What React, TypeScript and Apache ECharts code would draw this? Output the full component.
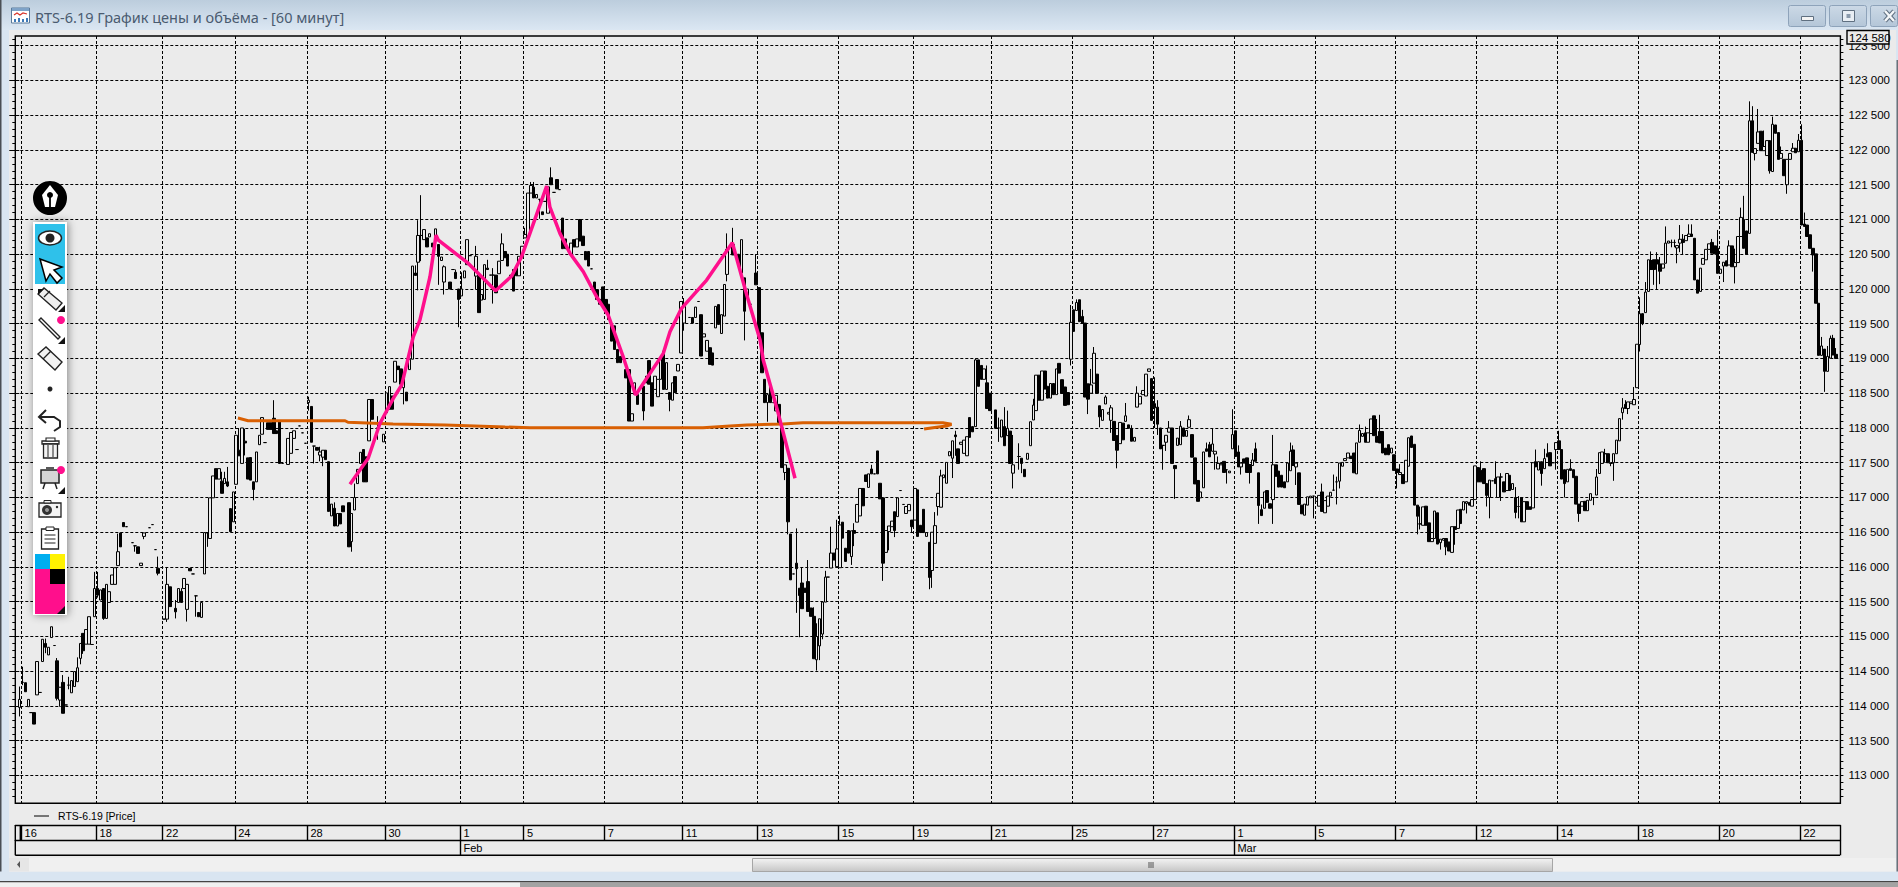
import React, { useEffect, useRef } from "react";
import * as echarts from "echarts";

type Row = number[] | null;
const _ = null;

const BAR_COUNT = 632;
const PRICE_MIN = 112600;
const PRICE_MAX = 123640;
const FONT = "'Liberation Sans', Arial, sans-serif";
const TITLE = "RTS-6.19 График цены и объёма - [60 минут]";
const SERIES_NAME = "RTS-6.19 [Price]";
const LAST_PRICE = "124 580";

const dayLabels = ["", "16", "18", "22", "24", "28", "30", "1", "5", "7", "11", "13", "15", "19", "21", "25", "27", "1", "5", "7", "12", "14", "18", "20", "22"];
const sessionStarts = [0, 2, 28, 51, 76, 101, 128, 154, 176, 204, 231, 257, 285, 311, 338, 366, 394, 422, 450, 478, 506, 534, 562, 590, 618];
const monthLabels = ["", "Feb", "Mar"];
const monthStarts = [0, 154, 422];

// rows: [open, close] or [open, close, low, high]; null = no bar drawn
const barsJan14: Row[] = [_, [113980,114095,113850,114280]];
const barsJan16: Row[] = [[114340,114340,114300,114565],[114335,114205],[113990,114095],[113905,113905],[113905,113740],[114160,114640],[114195,114195],[114640,114960],[114900,114845,114760,114970],[114735,114845],[114985,115140],[114870,114870],[114650,114110,114080,114690],[114085,114270,113990,114270],[114340,113895,113895,114445],[114015,114015],[114300,114300,114240,114420],[114190,114365],[114280,114495],[114350,114550,114350,114700],[114685,114900,114600,114900],[115045,114795,114750,115045],[114890,115100],[114890,115285],[114885,114885],[115285,115690,115285,115930]];
const barsJan18: Row[] = [[115690,115595,115560,115930],[115525,115670],[115690,115260,115240,115690],[115260,115750],[115490,115645],[115750,115885],[115750,115990],[116020,116220,116020,116480],[116490,116290],[116640,116580],[116580,116580],_,[116350,116350],[116305,116305,116220,116305],[116290,116195],[116020,116055],[116440,116490,116400,116490],_,[116565,116565],[116610,116610],[116250,116250],[115980,115910,115880,116150],_];
const barsJan22: Row[] = [[115250,115250],[115250,115750,115210,116000],[115715,115430],_,[115405,115355,115260,115525],[115490,115690],[115650,115490,115490,115695],[115690,115835],[115390,115750,115215,115750],[115980,115945],[115900,115900],[115585,115585,115285,115585],[115345,115285],[115275,115490],[115900,116495],[116490,116490,116290,116490],[116410,116995],[116995,117310],[117415,117265],[117265,117415],[117235,117060,117060,117370],[117200,117275,117200,117370],[117225,117165,117150,117440],[116840,116510],[116650,117080]];
const barsJan24: Row[] = [[117190,117895],[117680,117600,117600,118000],[117490,118000],[117810,117785,117605,117990],[117570,117265],[117575,117250],[117225,117115,116960,117225],[117225,117655],[117760,117895],[117910,118150],[117790,117790],[118075,117980],[118075,117980],[118140,117920,117920,118400],[117960,117920],[118090,117490],[117490,117490],_,[117475,117850],[117635,117935],[117850,117960],[117690,117690],[118030,118030],[117930,117930],[117780,117780]];
const barsJan28: Row[] = [[118365,118400,118250,118450],[118310,117795],[117740,117740,117490,117740],[117720,117680],[117610,117655,117520,117730],[117580,117680,117450,117680],[117680,117545],[117515,116800],[116735,116905],[116845,116590,116590,116930],[116590,116770],[116770,116620],[116880,116795],_,[116925,116290],[116365,116770,116220,116770],[116820,117000,116820,117200],[117200,117405],[117490,117650],[117690,117225],[117585,117225],[117815,118410],[118410,118125],_,[118000,118000,117830,118170],_,[117800,117910]];
const barsJan30: Row[] = [[118220,118505],[118270,118595],[118460,118270],[118660,118960],[118890,118840],[118850,118630],[118580,118750,118340,118750],[118515,118390],[118840,118990],[118990,120330],[120230,120195,120195,120340],[120385,120770,119980,120990],[120770,120770,120400,121350],[120710,120855],[120735,120605],[120750,120795],[120660,120605],[120760,120865],[120640,120470,120060,120640],[120410,120460],[120100,120320,119920,120340],_,[120100,120000],[120280,120280],[120240,120150,120150,120280],[120000,119850,119450,120000]];
const barsFeb01: Row[] = [[119900,120000,119900,120240],[120160,120260],[120350,120710],[120480,120480],_,[120185,120470,120000,120620],[120180,119660],[119840,119920],[119850,120350],[120300,120280,120280,120420],[120200,120200],[120200,120200,119790,120300],[120200,119945],[120220,120400],[120410,120650,120410,120800],[120540,120450],[120500,120330],[120200,120190],[120280,119970],[120280,120190],[120190,120470],[120450,120615]];
const barsFeb05: Row[] = [[120735,120785,120735,120880],[120760,121380],[121380,121490,121380,121540],[121465,121310,121310,121540],[121310,121360],[121290,121290,121010,121290],[121110,121070],[121260,121260],[121090,121470],[121600,121500,121500,121750],[121390,121390],[121575,121440],[121430,121430],[121020,120580],[120720,120580],_,[120500,120660],[120710,120605],[120605,120720],[121000,120690],[120760,120625],[120540,120420],[120540,120330],[120290,120290],[120100,119990],[119990,119850],[119850,119780],[120030,119750]];
const barsFeb07: Row[] = [[119850,119700],[119780,119560],[119490,119250],[119470,119130],[119130,118940],[119030,118940],[118990,118990],[118840,118720],[118840,118100],[118100,118205],[118485,118650],[118480,118340],_,[118600,118245,118110,118600],[118745,118650],[118970,118630],[118650,118315],[118555,118745],[118450,118700],[118700,118985],[119105,118555],[118555,118940],[118510,118410,118240,118510],[118400,118650],[118740,118510],[118820,118915],[119080,119820]];
const barsFeb11: Row[] = [[119510,119750,119400,119870],_,[119590,119590],[119590,119510],[119590,119740],[119820,119820],[119630,119035],[119310,119355],[119105,119260],[119155,118915],[119080,118905],[119440,119750],[119775,119490],[119360,119630],[119610,120065],[120210,120570,120110,120800],_,[120640,120490,120490,120880],_,[120500,120350],[120230,120710],[120160,119680,119260,120160],[119900,120000],[119780,119780],_,[120230,120060,120060,120500]];
const barsFeb13: Row[] = [[120020,119350],[119370,118795],[118700,118365],[118365,118480,118090,118480],[118600,118365],[118365,118365],[118245,118470],[118340,118080],[118000,117430],[117360,117470,117250,117470],[117420,116650,116470,117420],[116475,115815],[115900,115900],[116055,115975,115340,116555],[115695,115590,114990,115695],[115770,115400,115400,115990],[115695,115635],[115790,115360,115360,116100],[115410,115290],[115290,114680,114680,115420],[114665,115000,114510,115190],[114865,115255,114660,115255],[115035,115495,114960,115495],[115495,115855,115495,115945],[115855,115855],[115985,116200,115985,116580],[116200,116100],[116005,116260,116005,116680]];
const barsFeb15: Row[] = [[115990,116605,115990,116740],[116645,116415],[116270,116080],[116525,116200],[116150,116520,116030,116520],[116525,116485,116300,116630],[116645,116900],[116735,117130],[117130,116880],[117325,117230],[117145,117340],[117410,117340,117340,117470],[117340,117340],[117670,117340],[117205,116980],[116995,116055,115800,116995],[116210,116525],[116510,116590,116240,116590],[116580,116660],[116795,116525,116430,116795],[116725,116995],[117100,117100],[116900,116900],[116770,116870],[116810,116900],[116675,116580,116500,116675]];
const barsFeb19: Row[] = [[116675,117130],[117110,116440],[116600,116495],[116830,116495],[116440,116495],[116355,115850,115680,116355],[115950,116500,115700,116500],[116340,116595,116340,116790],[116870,117060,116740,117060],[116860,117310,116860,117400],[117285,117325],[117205,117505],[117600,117660],[117565,117815,117280,117815],[117900,117875,117600,117960],[117700,117490],[117765,117795],[117635,117825],[117600,117875],[118150,117865],[118020,117945],[118020,118980,118020,119000],[118980,118600],[118900,118700],[118700,118850],[118650,118280,118280,118900],[118500,118250]];
const barsFeb21: Row[] = [_,[118260,117995],[118000,118000,117800,118150],[117870,118115],[118020,117745,117745,118300],[117890,117995,117890,118250],[117955,117490],[117350,117470,117130,117900],_,[117590,117590,117400,117780],[117565,117490,117350,117565],[117405,117300],[117550,117635],[117745,118090],[118115,118330,118115,118420],[118250,118760],[118760,118400],[118400,118820],[118820,118560],[118600,118430],[118430,118640],[118640,118480],[118480,118850],[118930,118790],[118695,118500],[118590,118325],[118510,118335],[118990,119520,118900,119770]];
const barsFeb25: Row[] = [[119700,119390],[119690,119805,119690,119850],[119845,119530],[119605,119510,119510,119700],[119510,118445],[118635,118415,118200,118635],[118500,118620,118500,118850],[118645,119075,118645,119165],[118775,118500],[118320,118160,118010,118320],[118110,118265],[118345,118445,118345,118470],[118200,118225],[118110,118290,117930,118330],[118095,117820],[117890,117680,117420,117890],[117775,118080],[118070,117830],[118095,118175,118095,118360],[118045,117995],[117995,117810,117810,118040],[117810,117865],[118300,118500,118300,118600],[118345,118455],[118480,118540],[118460,118775],[118815,118850],[118710,118110]];
const barsFeb27: Row[] = [[118350,118290,118000,118730],[118300,118055,117900,118400],[118000,117700],[117750,117750,117400,117750],[117795,117895,117670,117895],[117940,118000,117940,118100],[118000,117490],[117460,117415,116980,117460],[117750,117855],[117760,118025,117760,118100],[118000,117880],[117880,117965],[118010,118120,118010,118180],[117905,117580],[117570,117195],[117245,116945],[116995,117080],[117140,117655],[117700,117665,117665,117790],[117760,117585,117585,117800],[117665,117770,117665,118000],[117625,117665,117400,117665],[117410,117490,117410,117590],[117470,117490],[117520,117360],[117400,117400,117200,117400],[117355,117380],[117700,117905,117700,118270]];
const barsMar01: Row[] = [[117960,117590],[117655,117440,117440,117750],[117440,117495,117330,117495],[117555,117495],[117570,117360],[117475,117360,117200,117475],[117460,117540,117460,117640],[117700,117520,117520,117790],[117355,116885,116620,117355],[116825,116740,116740,116900],[116845,117080],[117100,116930],[116910,116845],[116970,117470,116620,117900],[117470,117305],[117380,117150],[117320,117150],[117225,117140],[117225,117495],[117385,117665,117385,117790],[117685,117460,117460,117750],[117440,117495,117180,117495],[117355,116900],[116890,116765],[116745,116905],[116890,117010],[116995,117020],[117020,117020,116700,117020]];
const barsMar05: Row[] = [[116945,116995],[116875,117030],[117080,116800,116800,117200],[116780,116955],[116875,117020],[117020,117075],[117105,117105,117105,117330],[117225,117225,116900,117300],[117235,117495,117130,117495],[117450,117505],[117530,117560],[117570,117640],[117595,117560],[117640,117355],[117340,117785],[117795,117965,117795,118050],[117880,117920],[117930,117795,117795,118020],[117795,117930],[117920,118130],[118175,117890],[117880,117795,117795,118130],[117950,117785,117785,118190],[117950,117640],[117710,117615],[117760,117615],[117640,117710],[117615,117390]];
const barsMar07: Row[] = [[117410,117360,117130,117410],[117330,117360,117330,117480],[117330,117200],[117225,117535],[117450,117860],[117885,117720],[117765,116890],[116890,116730,116470,116890],[116620,116620,116540,116870],[116600,116865],[116875,116600],[116635,116365],[116365,116410],[116410,116805],[116780,116330],[116350,116400,116250,116400],[116385,116410],[116410,116290,116170,116410],[116360,116230],[116210,116580],[116580,116540,116320,116580],[116555,116820],[116830,116625],[116820,116940],[116915,116940,116770,116940],[116930,116890],[116875,116970],[116970,117455]];
const barsMar12: Row[] = [[117430,117225],[117390,117225,117225,117520],[117415,117200],[117200,117030,116870,117200],[117000,117250,116700,117250],[117240,117240],[117270,117200,117200,117520],[117000,117295],[117295,117295,116950,117350],[117225,117080],[117100,117345],[117320,117100],[117115,117200],[117000,116785,116700,117150],[116870,116870,116700,117020],[117000,116650],[116650,116940],[116940,116830],[116865,116830],[116850,117500],[117515,117440,117440,117690],[117395,117515],[117515,117345,117170,117515],[117415,117560,117415,117700],[117630,117585,117585,117780],[117645,117455],[117500,117500],[117690,117790,117400,117790]];
const barsMar14: Row[] = [[117815,117690,117690,117960],[117690,117265],[117400,117200,117000,117400],[117225,117405],[117415,117390,117390,117550],[117400,117285],[117305,116905],[116905,116770,116650,116905],[116875,116940],[116945,116810],[116810,116960],[116960,117055],[117000,117000,116890,117000],[117035,117295,117035,117410],[117345,117645],[117490,117655],[117630,117630,117500,117700],[117630,117500],[117490,117490,117450,117490],[117500,117630,117240,117630],[117630,117825],[117815,118135],[118220,118290,118120,118430],[118340,118280,118280,118400],[118280,118375,118200,118375],[118350,118375],[118335,118410,118335,118590],[118580,119205]];
const barsMar18: Row[] = [[119200,119645,119100,119880],[119645,119500,119480,119650],[119660,119955,119660,120100],[119965,120420],[120410,120280,120280,120540],[120420,120280,120060,120420],[120420,120360,120000,120530],[120360,120255,120070,120460],[120300,120360],[120370,120660,120370,120900],[120660,120690],[120670,120670,120600,120710],[120670,120670,120600,120710],[120590,120625,120370,120625],[120660,120715,120530,120920],[120715,120670,120500,120790],[120695,120770],[120755,120790,120755,120930],[120790,120755,120755,120930],[120730,120130],[120130,119940],[119965,120300],[120355,120440],[120420,120570],[120570,120650],[120670,120515,120515,120720],[120620,120505],[120585,120225,120225,120850]];
const barsMar20: Row[] = [[120225,120285],[120330,120385,120100,120385],[120405,120330],[120345,120620,120345,120700],[120620,120320],[120320,120380,120080,120580],[120380,120755],[120755,121030,120755,121170],[121000,120585,120585,121340],[120835,120500],[120800,122420,120800,122700],[122420,121965,121965,122630],[121950,122020,121850,122020],[122095,122260,122095,122590],[122270,121990],[121990,122050,121990,122280],[121920,122135],[122135,121700,121660,122135],[121690,122370,121690,122480],[122360,122240],[122250,121865],[121880,121950,121880,122050],[121865,121630],[121500,121865,121370,121865],[121865,121950],[121975,122025,121975,122100],[122025,121960],[121975,122140,121975,122230]];
const barsMar22: Row[] = [[122140,120920,120920,122370],[120935,120900,120900,121100],[120920,120755],[120780,120585],[120585,120490,120250,120585],[120505,119795],[119795,119045],[119045,119180,119045,119310],[119135,118815,118520,119135],[118815,119030,118815,119180],[119005,119290,119005,119330],[119290,119050,119050,119340],[119060,119000,119000,119150]];

const sessions: Row[][] = [barsJan14, barsJan16, barsJan18, barsJan22, barsJan24, barsJan28, barsJan30, barsFeb01, barsFeb05, barsFeb07, barsFeb11, barsFeb13, barsFeb15, barsFeb19, barsFeb21, barsFeb25, barsFeb27, barsMar01, barsMar05, barsMar07, barsMar12, barsMar14, barsMar18, barsMar20, barsMar22];

// hand-drawn overlays, [bar position, price]
const pinkBars = [115.9,122.2,126.3,130.9,133.8,137.8,140.1,143.6,145.7,146.5,156.9,166.3,171.9,175.3,178.2,184,185.1,188.6,192.1,196.7,201.3,205.3,210.5,214.8,224.4,226.7,230.7,239.4,248.3,253.3,257.9,259,264.2,270];
const pinkPrices = [117190,117564,118068,118427,118618,119313,119553,120176,120775,120703,120368,119975,120186,120463,120800,121480,121182,120800,120512,120248,119888,119625,119025,118475,119074,119385,119721,120128,120665,119913,119265,118978,118211,117277];
const orangeBars = [77.1,80.6,114.2,115.2,130.8,148.8,169.6,178.2,238.1,247.5,253.3,265.8,272.7,321.2,324.2,322.5,319,314.7];
const orangePrices = [118144,118105,118105,118082,118058,118043,118014,118004,118004,118029,118043,118058,118076,118076,118053,118029,118010,117986];

const majorTicks: number[] = [];
for (let v = 113000; v <= 123500; v += 500) majorTicks.push(v);
const minorTicks: number[] = [];
for (let v = 112700; v <= 123600; v += 100) minorTicks.push(v);

const fmtPrice = (v: number) => {
  const s = String(Math.round(v));
  return s.slice(0, 3) + " " + s.slice(3);
};

const g = (o: any) => ({ z: 100, silent: true, ...o });
const rect = (x: number, y: number, w: number, h: number, fill: any, stroke?: string, lineWidth = 1, extra: any = {}) =>
  g({ type: "rect", shape: { x, y, width: w, height: h, ...(extra.shape || {}) }, style: { fill, stroke: stroke || "none", lineWidth, ...(extra.style || {}) } });
const poly = (pts: number[][], fill: string, stroke?: string, lineWidth = 1.4) =>
  g({ type: "polygon", shape: { points: pts }, style: { fill, stroke: stroke || "none", lineWidth } });
const pline = (pts: number[][], stroke: string, lineWidth = 1.4) =>
  g({ type: "polyline", shape: { points: pts }, style: { fill: "none", stroke, lineWidth } });
const circ = (cx: number, cy: number, r: number, fill: string, stroke?: string, lineWidth = 1) =>
  g({ type: "circle", shape: { cx, cy, r }, style: { fill, stroke: stroke || "none", lineWidth } });
const txt = (x: number, y: number, text: string, font: string, fill: string, extra: any = {}) =>
  g({ type: "text", x, y, style: { text, font, fill, verticalAlign: "middle", ...extra } });
const vGrad = (a: string, b: string) => new echarts.graphic.LinearGradient(0, 0, 0, 1, [{ offset: 0, color: a }, { offset: 1, color: b }]);

const PINK = "#ff0f8c";
const INK = "#222222";

function chrome(): any[] {
  return [
    // window frame
    rect(0, 0, 1898, 30, vGrad("#bccddd", "#dbe7f3")),
    rect(0, 30, 9, 851, "#d9e5f1"),
    rect(0, 0, 1.5, 881, "#4a4f55"),
    rect(1896, 30, 2, 851, "#d9e5f1"),
    rect(1896.5, 60, 1.5, 821, "#6b7076"),
    rect(0, 871.5, 1898, 9.5, "#d9e5f1"),
    rect(0, 881, 1898, 1.5, "#444444"),
    rect(0, 882.5, 520, 5, "#f0f0f0"),
    rect(520, 882.5, 1378, 5, "#a3a3a3"),
    // title icon
    rect(11.5, 8, 18, 15, "#ffffff", "#5a7a9a", 1),
    rect(12, 8, 17, 3, "#7fa3c8"),
    pline([[14, 15], [17, 13], [20, 15], [23, 13], [27, 14]], "#d8342a", 1.2),
    rect(14, 19, 2, 3, "#3c79b8"), rect(18, 18, 2, 4, "#3c79b8"), rect(22, 19, 2, 3, "#3c79b8"), rect(26, 18, 2, 4, "#3c79b8"),
    txt(35, 17, TITLE, "14.5px 'Noto Sans', sans-serif", "#4a5b70"),
    // window buttons
    rect(1788.5, 5.5, 37, 21, vGrad("#ccd9e6", "#b4c6d8"), "#8ea3ba", 1, { shape: { r: 2 } }),
    rect(1829.5, 5.5, 37, 21, vGrad("#ccd9e6", "#b4c6d8"), "#8ea3ba", 1, { shape: { r: 2 } }),
    rect(1870.5, 5.5, 27, 21, vGrad("#ccd9e6", "#b4c6d8"), "#8ea3ba", 1, { shape: { r: 2 } }),
    rect(1801.5, 16.5, 12, 4, "#f4f4f4", "#5f6f80", 1),
    rect(1842.5, 10.5, 12, 11, "#e8eef4", "#5f6f80", 1),
    rect(1846.5, 14, 4, 4, "#8a9aac"),
    pline([[1885, 11], [1894, 21]], "#5f6f80", 4.5), pline([[1894, 11], [1885, 21]], "#5f6f80", 4.5),
    pline([[1885, 11], [1894, 21]], "#f4f6f8", 2.5), pline([[1894, 11], [1885, 21]], "#f4f6f8", 2.5),
    // last price box
    rect(1847, 30.5, 42, 13.5, "#ebebeb", "#000000", 1.4),
    txt(1849, 38, LAST_PRICE, `11.5px ${FONT}`, "#000000"),
    // legend row
    pline([[34, 816], [49, 816]], "#000000", 1),
    txt(58, 816, SERIES_NAME, `10.5px ${FONT}`, "#000000"),
    // date strip edges
    pline([[15.3, 825.3], [15.3, 855.3]], "#000000", 1.4),
    pline([[20.3, 825.3], [20.3, 840.3]], "#000000", 1.4),
    pline([[15.3, 855.3], [1840, 855.3]], "#000000", 1.4),
    // scrollbar
    rect(9, 858, 1887, 13.5, "#f0f0f0"),
    rect(9, 858, 20, 13.5, "#e6e6e6"),
    poly([[17, 864.5], [20, 861], [20, 868]], "#555555"),
    rect(752.5, 858.5, 800, 13, vGrad("#f3f3f3", "#c6c6c6"), "#a6a6a6", 1),
    pline([[1149, 862], [1149, 868]], "#555555", 1), pline([[1151, 862], [1151, 868]], "#555555", 1), pline([[1153, 862], [1153, 868]], "#555555", 1),
  ];
}

function toolbar(): any[] {
  const corner = (x: number, y: number) => poly([[x - 7, y], [x, y], [x, y - 7]], "#111111");
  return [
    // pen badge
    circ(50, 198, 17, "#000000"),
    poly([[50, 185], [42, 195], [45, 207], [55, 207], [58, 195]], "#ffffff"),
    circ(50, 195, 3, "#000000"),
    pline([[50, 195], [50, 207]], "#000000", 1.8),
    // panel
    rect(33, 222, 34, 393, "#ffffff", undefined, 1, { style: { shadowBlur: 9, shadowColor: "rgba(0,0,0,0.45)", shadowOffsetX: 1 } }),
    rect(35, 224, 30, 60, "#2fc1ea"),
    // eye
    g({ type: "ellipse", shape: { cx: 50, cy: 238, rx: 11.5, ry: 7 }, style: { fill: "#ffffff", stroke: INK, lineWidth: 1.5 } }),
    circ(50, 238, 4.5, INK),
    // arrow
    poly([[40, 259], [62, 267], [54, 270], [62, 278], [57, 283], [50, 274], [46, 281]], "#ffffff", "#000000", 1.5),
    // marker
    poly([[38, 294], [44, 288], [62, 303], [56, 310]], "#eeeeee", INK),
    pline([[44, 297], [50, 291]], INK, 1.2),
    poly([[38, 289], [44, 289], [38, 295]], "#111111"),
    corner(65, 312),
    // line tool
    poly([[39, 320], [41, 318], [60, 337], [58, 339]], "#ffffff", INK),
    circ(61, 320, 4, PINK),
    corner(65, 344),
    // eraser
    poly([[38, 354], [46, 347], [62, 362], [55, 370]], "#f2f2f2", INK),
    pline([[43, 359], [51, 351]], INK, 1.2),
    circ(50, 389, 2.5, INK),
    // undo
    pline([[46, 410], [39, 417], [46, 423]], INK, 2),
    pline([[39, 417], [54, 417], [60, 421], [60, 427], [54, 431]], INK, 2),
    // trash
    rect(42, 441, 17, 3, "#ffffff", INK, 1.3),
    rect(46, 438, 9, 3, "#ffffff", INK, 1.1),
    rect(43.5, 444, 14, 14, "#f2f2f2", INK, 1.3),
    pline([[48, 445], [48, 457]], INK, 1), pline([[53, 445], [53, 457]], INK, 1),
    // easel
    rect(41, 470, 18, 13, "#d6d6d6", INK, 1.5),
    pline([[45, 483], [43, 489]], INK, 1.5), pline([[55, 483], [57, 489]], INK, 1.5), pline([[46, 468], [54, 468]], INK, 1.5),
    circ(61, 470, 4, PINK),
    corner(65, 494),
    // camera
    rect(39, 503, 22, 14, "#f4f4f4", INK, 1.3),
    rect(44, 500.5, 7, 2.5, "#f4f4f4", INK, 1),
    circ(47, 510, 5, "#333333"), circ(47, 510, 2, "#999999"), circ(57, 507, 1.2, INK),
    // clipboard
    rect(41.5, 529, 17, 20, "#ffffff", INK, 1.3),
    rect(46, 527, 8, 3.5, "#ffffff", INK, 1),
    pline([[44.5, 535], [55.5, 535]], INK, 1), pline([[44.5, 539], [55.5, 539]], INK, 1), pline([[44.5, 543], [55.5, 543]], INK, 1),
    // swatches
    rect(35, 554, 15, 15, "#00aeef"),
    rect(50, 554, 15, 15, "#fff200"),
    rect(35, 569, 15, 15, PINK),
    rect(50, 569, 15, 15, "#000000"),
    rect(35, 584, 30, 30, PINK),
    poly([[57, 614], [65, 614], [65, 606]], "#111111"),
  ];
}

export default function App() {
  const ref = useRef<HTMLDivElement>(null);
  useEffect(() => {
    document.body.style.margin = "0";
    const chart = echarts.init(ref.current!, undefined, { renderer: "svg", width: 1898, height: 887 });

    const rows: Row[] = new Array(BAR_COUNT).fill(null);
    const dayCats: string[] = new Array(BAR_COUNT).fill("");
    const monthCats: string[] = new Array(BAR_COUNT).fill("");
    sessions.forEach((session, s) => {
      const start = sessionStarts[s];
      const end = s + 1 < sessionStarts.length ? sessionStarts[s + 1] : BAR_COUNT;
      session.forEach((r, j) => { if (start + j < end) rows[start + j] = r; });
      for (let i = start; i < end; i++) dayCats[i] = dayLabels[s];
    });
    monthStarts.forEach((start, m) => {
      const end = m + 1 < monthStarts.length ? monthStarts[m + 1] : BAR_COUNT;
      for (let i = start; i < end; i++) monthCats[i] = monthLabels[m];
    });
    const candles = rows.map((r) =>
      r ? [r[0], r[1], r[2] ?? Math.min(r[0], r[1]), r[3] ?? Math.max(r[0], r[1])] : "-"
    );
    const dayEdge = (i: number) => i > 0 && sessionStarts.includes(i);
    const monthEdge = (i: number) => i > 0 && monthStarts.includes(i);
    const dash = { color: "#000000", width: 1, type: [3, 2] as any };
    const black = { color: "#000000", width: 1.4 };
    const range = { type: "value", min: PRICE_MIN, max: PRICE_MAX, gridIndex: 0 };

    chart.setOption({
      animation: false,
      backgroundColor: "#ebebeb",
      grid: { left: 15.3, right: 57.6, top: 36, bottom: 83.7, show: true, backgroundColor: "#ebebeb", borderColor: "#000000", borderWidth: 1.4 },
      xAxis: [
        {
          type: "category", data: dayCats, boundaryGap: true, position: "bottom",
          axisLine: { show: false }, axisTick: { show: false }, axisLabel: { show: false },
          splitLine: { show: true, interval: (i: number) => dayEdge(i), lineStyle: dash },
        },
        {
          type: "category", data: dayCats, boundaryGap: true, position: "bottom", offset: 22,
          axisLine: { show: true, lineStyle: black },
          axisTick: { show: true, length: 15, interval: (i: number) => dayEdge(i), lineStyle: black },
          axisLabel: {
            show: true, interval: (i: number) => i === 2 || dayEdge(i), align: "left", margin: 2, padding: [0, 0, 0, 2],
            fontFamily: FONT, fontSize: 11, color: "#000000",
          },
          splitLine: { show: false },
        },
        {
          type: "category", data: monthCats, boundaryGap: true, position: "bottom", offset: 37,
          axisLine: { show: true, lineStyle: black },
          axisTick: { show: true, length: 15, interval: (i: number) => monthEdge(i), lineStyle: black },
          axisLabel: {
            show: true, interval: (i: number) => monthEdge(i), align: "left", margin: 2, padding: [0, 0, 0, 2],
            fontFamily: FONT, fontSize: 11, color: "#000000",
          },
          splitLine: { show: false },
        },
        { type: "value", min: 0, max: BAR_COUNT, show: false, gridIndex: 0 },
      ],
      yAxis: [
        {
          ...range, position: "right",
          axisLine: { show: false },
          axisTick: { show: true, length: 4, customValues: majorTicks, lineStyle: { color: "#000000" } },
          axisLabel: { show: true, customValues: majorTicks, margin: 8, formatter: fmtPrice, fontFamily: FONT, fontSize: 11.5, color: "#000000" },
          splitLine: { show: true, lineStyle: dash },
        },
        {
          ...range, position: "right",
          axisLine: { show: false }, axisLabel: { show: false }, splitLine: { show: false },
          axisTick: { show: true, length: 3, customValues: minorTicks, lineStyle: { color: "#000000" } },
        },
        {
          ...range, position: "left",
          axisLine: { show: false }, axisLabel: { show: false }, splitLine: { show: false },
          axisTick: { show: true, length: 6, customValues: majorTicks, lineStyle: { color: "#000000" } },
        },
        {
          ...range, position: "left",
          axisLine: { show: false }, axisLabel: { show: false }, splitLine: { show: false },
          axisTick: { show: true, length: 3, customValues: minorTicks, lineStyle: { color: "#000000" } },
        },
      ],
      series: [
        {
          type: "candlestick", name: SERIES_NAME, xAxisIndex: 0, yAxisIndex: 0, data: candles, barWidth: 3,
          large: false, progressive: 0,
          itemStyle: { color: "#ebebeb", color0: "#000000", borderColor: "#000000", borderColor0: "#000000", borderWidth: 1 },
        },
        {
          type: "line", xAxisIndex: 3, yAxisIndex: 0, showSymbol: false, symbol: "none", z: 4,
          data: orangeBars.map((b, i) => [b, orangePrices[i]]),
          lineStyle: { color: "#d95f02", width: 3 },
        },
        {
          type: "line", xAxisIndex: 3, yAxisIndex: 0, showSymbol: false, symbol: "none", z: 5,
          data: pinkBars.map((b, i) => [b, pinkPrices[i]]),
          lineStyle: { color: PINK, width: 3.5 },
        },
      ],
      graphic: { elements: [...chrome(), ...toolbar()] },
    });
    return () => chart.dispose();
  }, []);
  return <div ref={ref} style={{ position: "absolute", left: 0, top: 0, width: 1898, height: 887 }} />;
}
